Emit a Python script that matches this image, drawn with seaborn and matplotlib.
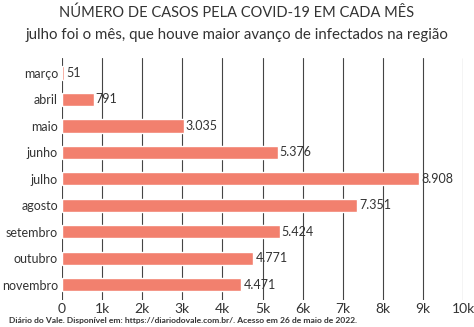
import matplotlib
matplotlib.use("Agg")
import matplotlib.pyplot as plt
import seaborn as sns
import pandas as pd

meses = ["março", "abril", "maio", "junho", "julho", "agosto", "setembro", "outubro", "novembro"]
casos = [51, 791, 3035, 5376, 8908, 7351, 5424, 4771, 4471]
ticks = [0, 1000, 2000, 3000, 4000, 5000, 6000, 7000, 8000, 9000, 10000]
tick_labels = ["0", "1k", "2k", "3k", "4k", "5k", "6k", "7k", "8k", "9k", "10k"]

sns.set_theme(style="white")
plt.rcParams["font.family"] = ["Lato", "DejaVu Sans"]

df = pd.DataFrame({"mes": meses, "casos": casos})

fig = plt.figure(figsize=(4.74, 3.27), dpi=100)
ax = fig.add_axes([0.131, 0.083, 0.846, 0.74])

for t in ticks:
    ax.axvline(t, color="#444444", lw=0.8, zorder=0)

sns.barplot(data=df, x="casos", y="mes", orient="h", color="#F2806E",
            saturation=1, width=0.5, ax=ax, zorder=2)

def fmt(v):
    return f"{v:,}".replace(",", ".")

for i, v in enumerate(casos):
    ax.text(v + 50, i, fmt(v), va="center", ha="left", fontsize=9, color="#333333", zorder=3)

ax.set_xlim(0, 10000)
ax.set_ylim(8.57, -0.57)
ax.set_xticks(ticks)
ax.set_xticklabels(tick_labels, fontsize=10, color="#333333")
ax.tick_params(axis="y", labelsize=9, labelcolor="#333333", length=0, pad=3)
ax.tick_params(axis="x", length=0, pad=2)
ax.set_xlabel("")
ax.set_ylabel("")
for s in ax.spines.values():
    s.set_visible(False)

fig.text(0.5, 0.962, "NÚMERO DE CASOS PELA COVID-19 EM CADA MÊS", ha="center", va="center",
         fontsize=10.5, color="#333333")
fig.text(0.5, 0.893, "julho foi o mês, que houve maior avanço de infectados na região", ha="center",
         va="center", fontsize=10.8, color="#333333")
fig.text(0.02, 0.02, "Diário do Vale. Disponível em: https://diariodovale.com.br/. Acesso em 26 de maio de 2022.",
         ha="left", va="center", fontsize=6.1, fontweight="bold", color="#333333")

fig.savefig("out.png", dpi=100)
